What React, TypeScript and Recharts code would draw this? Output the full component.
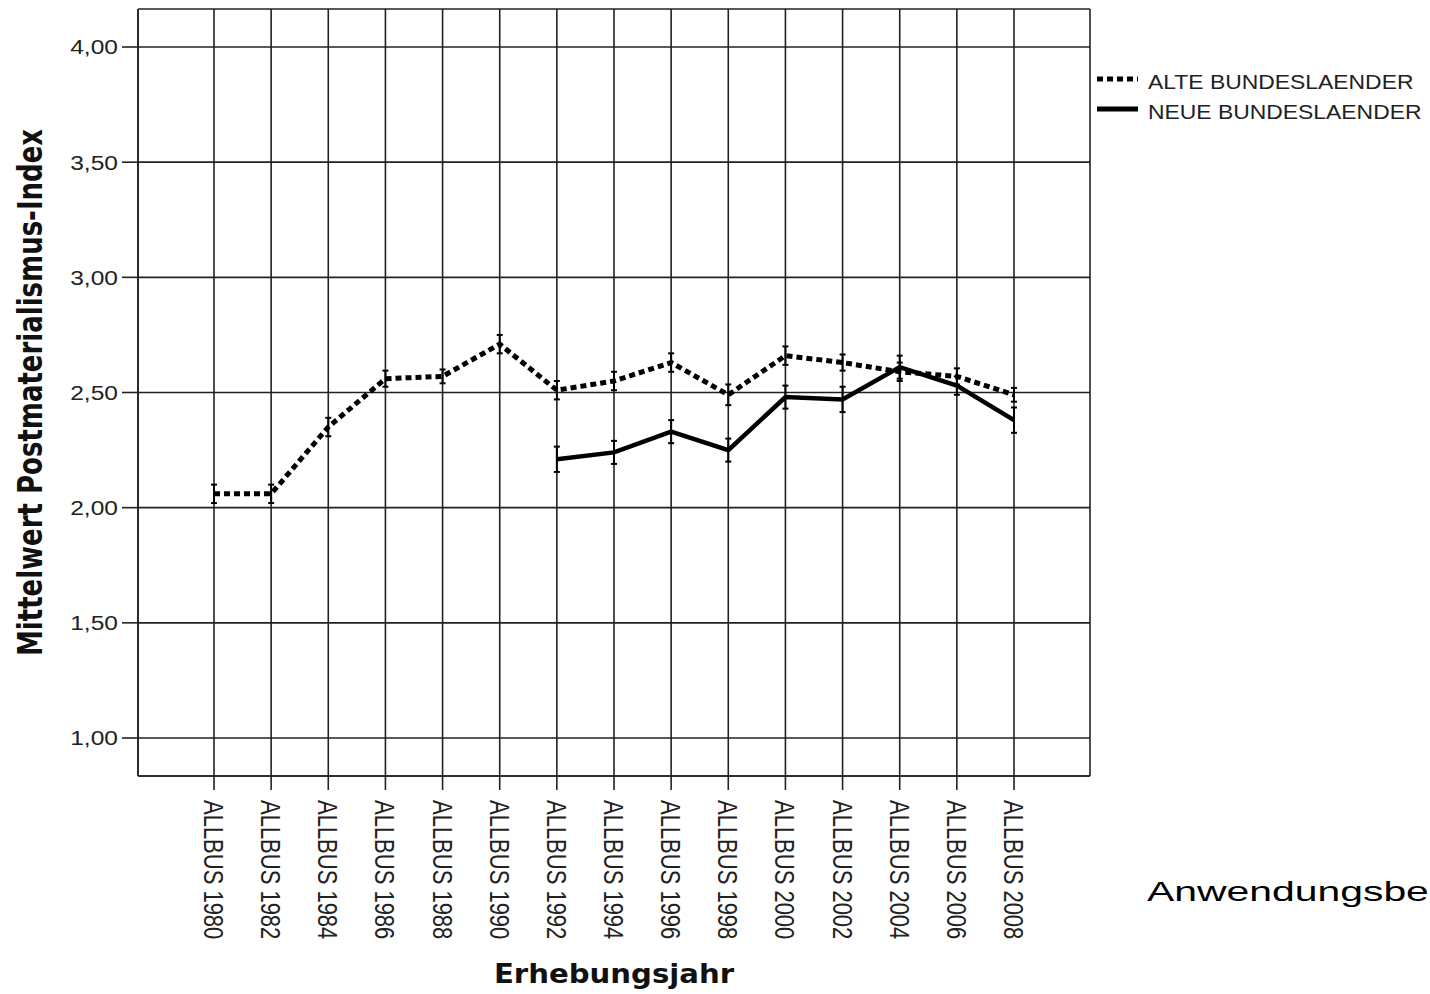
import { LineChart, Line, XAxis, YAxis, CartesianGrid, ErrorBar, Legend } from 'recharts'

// ALLBUS survey waves
const years = ['1980', '1982', '1984', '1986', '1988', '1990', '1992', '1994', '1996', '1998', '2000', '2002', '2004', '2006', '2008']

// mean postmaterialism index + half width of the confidence interval
const alteMean = [2.06, 2.06, 2.35, 2.56, 2.57, 2.71, 2.51, 2.55, 2.63, 2.49, 2.66, 2.63, 2.59, 2.57, 2.49]
const alteCi = [0.04, 0.04, 0.04, 0.035, 0.03, 0.04, 0.04, 0.04, 0.04, 0.045, 0.04, 0.035, 0.04, 0.035, 0.03]
const neueMean = [null, null, null, null, null, null, 2.21, 2.24, 2.33, 2.25, 2.48, 2.47, 2.61, 2.53, 2.38]
const neueCi = [null, null, null, null, null, null, 0.055, 0.05, 0.05, 0.05, 0.05, 0.055, 0.05, 0.04, 0.055]

const yTicks = [1, 1.5, 2, 2.5, 3, 3.5, 4]

const data = years.map((y, i) => ({
  label: `ALLBUS ${y}`,
  alte: alteMean[i],
  alteErr: alteCi[i],
  neue: neueMean[i],
  neueErr: neueCi[i]
}))

const SANS = "'Liberation Sans', Arial, sans-serif"
const BOLD = "'DejaVu Sans', Verdana, sans-serif"
const INK = '#222'

const fmt = (v: number) => v.toFixed(2).replace('.', ',')

function XTick({ x, y, payload }: any) {
  return (
    <text
      transform={`translate(${x},${y}) rotate(90) scale(1,1.27)`}
      textAnchor="start"
      dominantBaseline="central"
      fontFamily={SANS}
      fontSize={22}
      fill={INK}
    >
      {payload.value}
    </text>
  )
}

function YTick({ x, y, payload }: any) {
  return (
    <text
      transform={`translate(${x},${y}) scale(1.17,1)`}
      textAnchor="end"
      dominantBaseline="central"
      fontFamily={SANS}
      fontSize={21}
      fill={INK}
    >
      {fmt(payload.value)}
    </text>
  )
}

function YTitle({ viewBox }: any) {
  const cy = viewBox.y + viewBox.height / 2
  return (
    <text
      transform={`translate(30,${cy}) rotate(-90) scale(1,1.3)`}
      textAnchor="middle"
      dominantBaseline="central"
      fontFamily={BOLD}
      fontWeight="bold"
      fontSize={26}
      fill="#111"
    >
      Mittelwert Postmaterialismus-Index
    </text>
  )
}

function XTitle({ viewBox }: any) {
  const cx = viewBox.x + viewBox.width / 2
  return (
    <text
      transform={`translate(${cx},983) scale(1.08,1)`}
      textAnchor="middle"
      fontFamily={BOLD}
      fontWeight="bold"
      fontSize={27}
      fill="#111"
    >
      Erhebungsjahr
    </text>
  )
}

function LegendBox({ payload }: any) {
  return (
    <div style={{ fontFamily: SANS, fontSize: 21, color: INK }}>
      {(payload || []).map((item: any) => (
        <div key={item.value} style={{ display: 'flex', alignItems: 'center', height: 30 }}>
          <svg width={41} height={10} style={{ marginTop: -6 }}>
            <line
              x1={0}
              y1={5}
              x2={41}
              y2={5}
              stroke="#000"
              strokeWidth={5}
              strokeDasharray={item.payload?.strokeDasharray}
            />
          </svg>
          <span
            style={{
              display: 'inline-block',
              marginLeft: 10,
              whiteSpace: 'nowrap',
              transform: 'scaleX(1.09)',
              transformOrigin: 'left center'
            }}
          >
            {item.value}
          </span>
        </div>
      ))}
    </div>
  )
}

export default function App() {
  return (
    <div style={{ position: 'absolute', left: 0, top: 0, width: 1430, height: 994, background: '#fff', overflow: 'hidden' }}>
      <LineChart width={1430} height={994} data={data} margin={{ top: 9, right: 340, bottom: 18, left: 18 }}>
        <CartesianGrid stroke={INK} strokeWidth={1.6} />
        <XAxis
          dataKey="label"
          scale="point"
          padding={{ left: 76, right: 76 }}
          interval={0}
          height={200}
          tickSize={14}
          tickMargin={10}
          tick={<XTick />}
          axisLine={{ stroke: INK, strokeWidth: 1.6 }}
          tickLine={{ stroke: INK, strokeWidth: 1.6 }}
          label={<XTitle />}
        />
        <XAxis xAxisId="top" dataKey="label" orientation="top" height={0} tick={false} tickLine={false} axisLine={{ stroke: INK, strokeWidth: 1.6 }} />
        <YAxis
          domain={[0.835, 4.165]}
          ticks={yTicks}
          allowDataOverflow
          width={120}
          tickSize={16}
          tickMargin={4}
          tick={<YTick />}
          axisLine={{ stroke: INK, strokeWidth: 1.6 }}
          tickLine={{ stroke: INK, strokeWidth: 1.6 }}
          label={<YTitle />}
        />
        <YAxis yAxisId="right" orientation="right" width={0} domain={[0, 1]} tick={false} tickLine={false} axisLine={{ stroke: INK, strokeWidth: 1.6 }} />
        <Legend
          layout="vertical"
          align="center"
          verticalAlign="middle"
          content={<LegendBox />}
          wrapperStyle={{ left: 1097, top: 67, width: 330, height: 60 }}
        />
        <Line
          dataKey="alte"
          name="ALTE BUNDESLAENDER"
          stroke="#000"
          strokeWidth={5}
          strokeDasharray="6 4"
          dot={false}
          activeDot={false}
          isAnimationActive={false}
        >
          <ErrorBar dataKey="alteErr" direction="y" width={3} stroke="#000" strokeWidth={2} />
        </Line>
        <Line
          dataKey="neue"
          name="NEUE BUNDESLAENDER"
          stroke="#000"
          strokeWidth={4.5}
          dot={false}
          activeDot={false}
          isAnimationActive={false}
        >
          <ErrorBar dataKey="neueErr" direction="y" width={3} stroke="#000" strokeWidth={2} />
        </Line>
      </LineChart>
      <div
        style={{
          position: 'absolute',
          left: 1147,
          top: 878,
          fontFamily: SANS,
          fontSize: 28,
          lineHeight: '28px',
          color: '#000',
          whiteSpace: 'nowrap',
          transform: 'scaleX(1.46)',
          transformOrigin: 'left center'
        }}
      >
        Anwendungsbe
      </div>
    </div>
  )
}
